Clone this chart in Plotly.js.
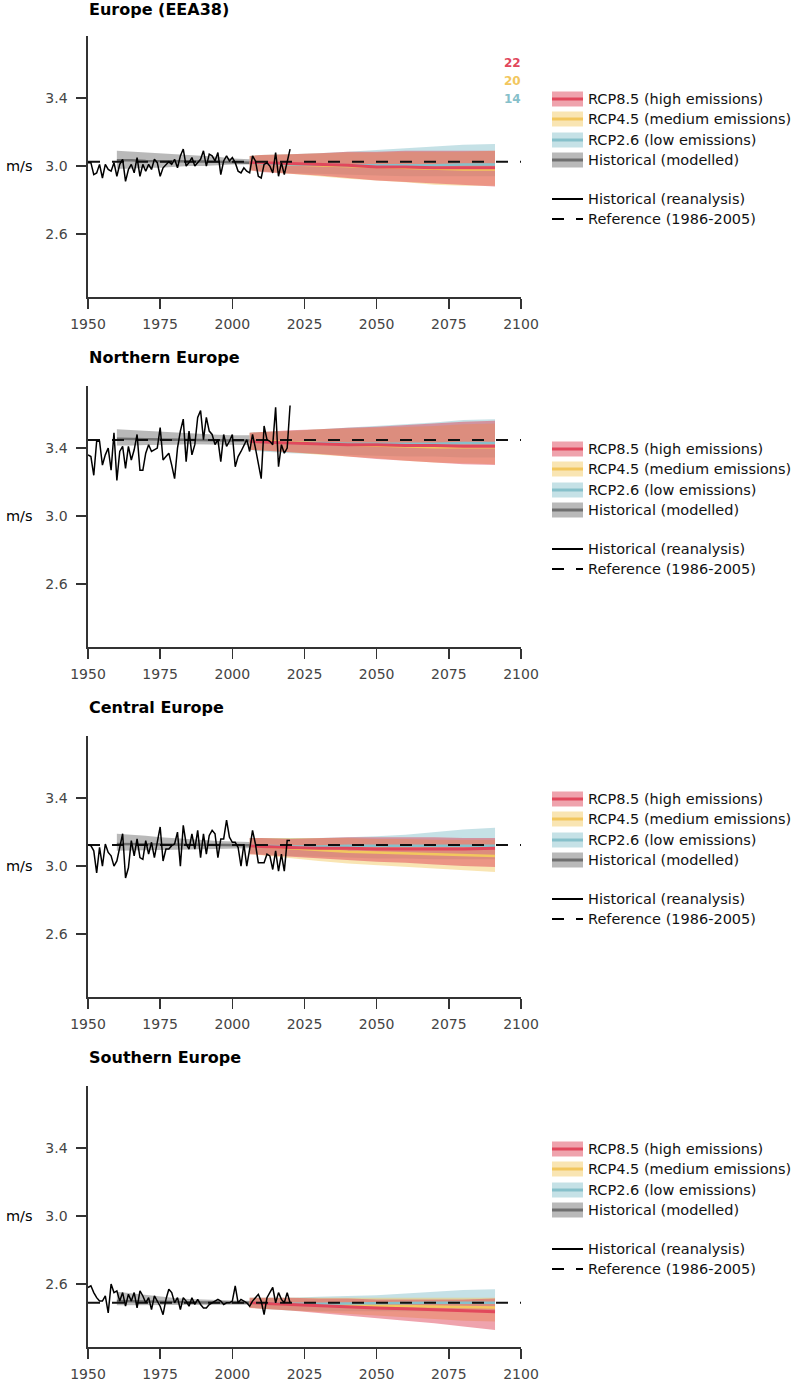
<!DOCTYPE html>
<html><head><meta charset="utf-8">
<script src="https://cdn.plot.ly/plotly-3.0.1.min.js"></script>
<style>html,body{margin:0;padding:0;background:#fff}#chart{width:800px;height:1400px}</style>
</head><body><div id="chart"></div>
<script>
// ---------------- DATA ----------------
const regionNames = ["Europe (EEA38)", "Northern Europe", "Central Europe", "Southern Europe"];
const unitLabel = "m/s";
const legendLabels = ["RCP8.5 (high emissions)", "RCP4.5 (medium emissions)", "RCP2.6 (low emissions)", "Historical (modelled)", "Historical (reanalysis)", "Reference (1986-2005)"];
const modelCounts = [22, 20, 14];
const xTickVals = [1950, 1975, 2000, 2025, 2050, 2075, 2100];
const yTickVals = [2.6, 3.0, 3.4];
const yTickText = ["2.6", "3.0", "3.4"];

const reanYears = [1950,1951,1952,1953,1954,1955,1956,1957,1958,1959,1960,1961,1962,1963,1964,1965,1966,1967,1968,1969,1970,1971,1972,1973,1974,1975,1976,1977,1978,1979,1980,1981,1982,1983,1984,1985,1986,1987,1988,1989,1990,1991,1992,1993,1994,1995,1996,1997,1998,1999,2000,2001,2002,2003,2004,2005,2006,2007,2008,2009,2010,2011,2012,2013,2014,2015,2016,2017,2018,2019,2020];

const reanEurope = [3.02,3.02,2.95,2.96,3.01,2.93,3.01,2.98,2.97,3.02,2.94,3.01,3.04,2.91,2.98,3.01,2.96,3.05,2.94,3.01,2.97,3.01,2.98,3.04,3.02,2.94,2.99,3.01,3.025,3.01,3.04,2.99,3.06,3.10,3.00,3.02,3.05,3.00,3.02,3.04,3.09,3.00,3.07,3.06,3.03,3.08,2.95,3.03,3.06,3.03,3.05,3.02,2.97,2.96,2.99,2.97,2.96,3.06,3.03,2.94,2.93,3.01,3.02,3.00,2.96,3.08,2.94,3.02,2.95,3.03,3.10];
const reanNorth = [3.36,3.35,3.24,3.44,3.44,3.30,3.36,3.40,3.27,3.49,3.21,3.38,3.41,3.28,3.41,3.33,3.39,3.48,3.27,3.27,3.37,3.42,3.38,3.39,3.40,3.52,3.33,3.35,3.37,3.30,3.22,3.40,3.50,3.57,3.32,3.50,3.36,3.42,3.58,3.62,3.45,3.58,3.50,3.48,3.42,3.45,3.32,3.48,3.41,3.44,3.48,3.29,3.35,3.38,3.42,3.45,3.38,3.48,3.40,3.30,3.22,3.53,3.45,3.44,3.42,3.64,3.29,3.42,3.37,3.40,3.65];
const reanCentral = [3.125,3.12,3.09,2.96,3.11,3.00,3.13,3.08,3.06,3.00,3.03,3.11,3.19,2.93,2.99,3.15,3.06,3.16,3.05,3.04,3.15,3.07,3.14,3.05,3.15,3.23,3.03,3.10,3.10,3.12,3.13,3.20,3.00,3.24,3.13,3.10,3.19,3.10,3.21,3.05,3.19,3.07,3.18,3.21,3.19,3.05,3.16,3.16,3.27,3.17,3.14,3.14,3.11,3.00,3.13,3.00,3.10,3.21,3.13,3.02,3.02,3.02,3.07,3.06,2.98,3.09,2.97,3.07,2.97,3.15,3.15];
const reanSouth = [2.58,2.59,2.55,2.52,2.50,2.50,2.53,2.43,2.60,2.55,2.56,2.50,2.55,2.47,2.54,2.50,2.55,2.46,2.56,2.53,2.49,2.52,2.45,2.53,2.50,2.47,2.42,2.51,2.57,2.55,2.49,2.52,2.45,2.52,2.50,2.47,2.52,2.48,2.51,2.48,2.46,2.46,2.48,2.49,2.50,2.51,2.50,2.48,2.49,2.49,2.50,2.59,2.49,2.51,2.50,2.49,2.47,2.50,2.52,2.54,2.50,2.42,2.52,2.55,2.58,2.49,2.55,2.51,2.49,2.55,2.49];

const histYears = [1960,1965,1970,1975,1980,1985,1990,1995,2000,2006];
const histMeanEurope = [3.035,3.035,3.03,3.03,3.03,3.028,3.027,3.025,3.023,3.02];
const histLowEurope  = [2.985,2.985,2.99,2.99,2.995,3.0,3.0,3.005,3.01,3.01];
const histHighEurope = [3.09,3.085,3.08,3.075,3.07,3.065,3.06,3.055,3.045,3.04];
const histMeanNorth = [3.455,3.455,3.452,3.45,3.45,3.448,3.447,3.446,3.445,3.444];
const histLowNorth  = [3.415,3.415,3.418,3.42,3.42,3.422,3.423,3.422,3.42,3.418];
const histHighNorth = [3.51,3.505,3.5,3.495,3.49,3.485,3.48,3.478,3.476,3.475];
const histMeanCentral = [3.13,3.13,3.13,3.128,3.127,3.126,3.125,3.124,3.123,3.122];
const histLowCentral  = [3.09,3.09,3.092,3.094,3.096,3.098,3.1,3.102,3.104,3.105];
const histHighCentral = [3.19,3.185,3.178,3.17,3.163,3.158,3.153,3.148,3.145,3.142];
const histMeanSouth = [2.5,2.498,2.496,2.495,2.494,2.493,2.492,2.492,2.491,2.49];
const histLowSouth  = [2.475,2.475,2.475,2.475,2.476,2.477,2.478,2.478,2.478,2.478];
const histHighSouth = [2.555,2.545,2.535,2.525,2.518,2.512,2.508,2.505,2.503,2.502];

const projYears = [2006,2010,2020,2030,2040,2050,2060,2070,2080,2091];
// Europe
const rcp85MeanEurope = [3.02,3.02,3.015,3.01,3.005,2.995,2.995,2.99,2.99,2.99];
const rcp85LowEurope  = [2.975,2.965,2.955,2.945,2.93,2.915,2.905,2.895,2.89,2.88];
const rcp85HighEurope = [3.06,3.065,3.07,3.075,3.085,3.085,3.09,3.09,3.09,3.09];
const rcp45MeanEurope = [3.02,3.015,3.01,3.005,3.0,2.995,2.99,2.985,2.98,2.98];
const rcp45LowEurope  = [2.975,2.97,2.955,2.94,2.925,2.915,2.905,2.89,2.885,2.885];
const rcp45HighEurope = [3.06,3.065,3.07,3.075,3.08,3.08,3.085,3.085,3.085,3.09];
const rcp26MeanEurope = [3.02,3.015,3.01,3.01,3.005,3.005,3.005,3.005,3.01,3.01];
const rcp26LowEurope  = [2.98,2.97,2.96,2.955,2.95,2.945,2.94,2.94,2.94,2.94];
const rcp26HighEurope = [3.06,3.065,3.07,3.075,3.085,3.095,3.105,3.115,3.125,3.13];
// Northern
const rcp85MeanNorth = [3.44,3.435,3.43,3.425,3.42,3.42,3.415,3.415,3.41,3.41];
const rcp85LowNorth  = [3.39,3.385,3.375,3.365,3.35,3.335,3.325,3.315,3.305,3.30];
const rcp85HighNorth = [3.49,3.495,3.505,3.51,3.52,3.525,3.535,3.545,3.555,3.56];
const rcp45MeanNorth = [3.44,3.44,3.435,3.43,3.42,3.415,3.41,3.405,3.405,3.405];
const rcp45LowNorth  = [3.39,3.385,3.375,3.36,3.35,3.34,3.325,3.315,3.31,3.305];
const rcp45HighNorth = [3.49,3.495,3.5,3.51,3.515,3.52,3.525,3.53,3.54,3.545];
const rcp26MeanNorth = [3.44,3.435,3.43,3.43,3.425,3.425,3.425,3.425,3.43,3.43];
const rcp26LowNorth  = [3.39,3.38,3.37,3.365,3.36,3.355,3.35,3.35,3.345,3.345];
const rcp26HighNorth = [3.49,3.495,3.5,3.51,3.52,3.53,3.54,3.55,3.565,3.57];
// Central
const rcp85MeanCentral = [3.12,3.115,3.11,3.105,3.105,3.1,3.1,3.1,3.1,3.105];
const rcp85LowCentral  = [3.07,3.065,3.055,3.045,3.035,3.025,3.02,3.01,3.0,2.995];
const rcp85HighCentral = [3.165,3.165,3.16,3.165,3.17,3.17,3.17,3.17,3.165,3.165];
const rcp45MeanCentral = [3.12,3.115,3.105,3.095,3.085,3.08,3.075,3.07,3.065,3.06];
const rcp45LowCentral  = [3.07,3.06,3.045,3.03,3.015,3.005,2.995,2.985,2.975,2.965];
const rcp45HighCentral = [3.165,3.165,3.165,3.165,3.165,3.16,3.16,3.155,3.155,3.155];
const rcp26MeanCentral = [3.12,3.12,3.115,3.115,3.12,3.12,3.12,3.12,3.12,3.12];
const rcp26LowCentral  = [3.075,3.07,3.06,3.055,3.05,3.045,3.045,3.04,3.04,3.04];
const rcp26HighCentral = [3.165,3.165,3.165,3.165,3.17,3.175,3.185,3.2,3.215,3.225];
// Southern
const rcp85MeanSouth = [2.49,2.487,2.48,2.472,2.465,2.46,2.455,2.448,2.442,2.437];
const rcp85LowSouth  = [2.46,2.455,2.445,2.43,2.415,2.4,2.385,2.37,2.35,2.33];
const rcp85HighSouth = [2.52,2.52,2.52,2.515,2.515,2.51,2.51,2.51,2.51,2.515];
const rcp45MeanSouth = [2.49,2.487,2.482,2.478,2.475,2.472,2.47,2.467,2.465,2.463];
const rcp45LowSouth  = [2.46,2.455,2.445,2.435,2.425,2.415,2.405,2.395,2.385,2.38];
const rcp45HighSouth = [2.52,2.52,2.52,2.52,2.52,2.52,2.52,2.52,2.52,2.52];
const rcp26MeanSouth = [2.49,2.488,2.485,2.485,2.487,2.488,2.49,2.49,2.49,2.49];
const rcp26LowSouth  = [2.465,2.455,2.445,2.44,2.44,2.44,2.44,2.44,2.44,2.44];
const rcp26HighSouth = [2.52,2.52,2.52,2.525,2.53,2.535,2.545,2.555,2.565,2.57];

const referenceValues = [3.025, 3.447, 3.124, 2.49];
const referenceSpan = [1950, 2100];

// ---------------- STYLE ----------------
const W = 800, H = 1400;
const FONT = "DejaVu Sans";
const C = {
  redLine: "#e1485c", redFill: "rgba(222,62,84,0.48)",
  yelLine: "#f2c75e", yelFill: "rgba(242,199,94,0.47)",
  bluLine: "#86c0ca", bluFill: "rgba(140,196,205,0.5)",
  grayLine: "#6e6e6e", grayFill: "rgba(115,115,115,0.5)"
};
const PANEL_STEP = 350, PLOT_TOP = 35.5, PLOT_BOT = 297, X_LEFT = 88, X_RIGHT = 521;
const yRange = [2.23, 3.768];

const panels = [
  {rean: reanEurope, hm: histMeanEurope, hl: histLowEurope, hh: histHighEurope,
   r85: [rcp85MeanEurope, rcp85LowEurope, rcp85HighEurope], r45: [rcp45MeanEurope, rcp45LowEurope, rcp45HighEurope], r26: [rcp26MeanEurope, rcp26LowEurope, rcp26HighEurope]},
  {rean: reanNorth, hm: histMeanNorth, hl: histLowNorth, hh: histHighNorth,
   r85: [rcp85MeanNorth, rcp85LowNorth, rcp85HighNorth], r45: [rcp45MeanNorth, rcp45LowNorth, rcp45HighNorth], r26: [rcp26MeanNorth, rcp26LowNorth, rcp26HighNorth]},
  {rean: reanCentral, hm: histMeanCentral, hl: histLowCentral, hh: histHighCentral,
   r85: [rcp85MeanCentral, rcp85LowCentral, rcp85HighCentral], r45: [rcp45MeanCentral, rcp45LowCentral, rcp45HighCentral], r26: [rcp26MeanCentral, rcp26LowCentral, rcp26HighCentral]},
  {rean: reanSouth, hm: histMeanSouth, hl: histLowSouth, hh: histHighSouth,
   r85: [rcp85MeanSouth, rcp85LowSouth, rcp85HighSouth], r45: [rcp45MeanSouth, rcp45LowSouth, rcp45HighSouth], r26: [rcp26MeanSouth, rcp26LowSouth, rcp26HighSouth]}
];

const px = v => v / W;
const py = v => 1 - v / H;

function band(xs, lo, hi, fill, xa, ya) {
  return {x: xs.concat(xs.slice().reverse()), y: hi.concat(lo.slice().reverse()),
    type: "scatter", mode: "lines", fill: "toself", fillcolor: fill,
    line: {width: 0, color: "rgba(0,0,0,0)"}, hoverinfo: "skip", showlegend: false, xaxis: xa, yaxis: ya};
}
function line(xs, ys, color, width, xa, ya, dash) {
  return {x: xs, y: ys, type: "scatter", mode: "lines",
    line: {color: color, width: width, dash: dash || "solid"}, hoverinfo: "skip", showlegend: false, xaxis: xa, yaxis: ya};
}

const traces = [];
const layout = {
  width: W, height: H, margin: {l: 0, r: 0, t: 0, b: 0},
  paper_bgcolor: "#fff", plot_bgcolor: "#fff", showlegend: false, hovermode: false,
  font: {family: FONT, size: 14, color: "#000"},
  shapes: [], annotations: []
};

panels.forEach((p, k) => {
  const sfx = k === 0 ? "" : String(k + 1);
  const xa = "x" + sfx, ya = "y" + sfx;
  const off = k * PANEL_STEP;
  layout["xaxis" + sfx] = {
    domain: [px(X_LEFT), px(X_RIGHT)], anchor: ya, range: [1950, 2100],
    tickvals: xTickVals, ticks: "outside", ticklen: 10, tickwidth: 1.6, tickcolor: "#333",
    showline: true, linecolor: "#333", linewidth: 1.6, showgrid: false, zeroline: false,
    tickfont: {family: FONT, size: 14, color: "#444"}, ticklabelstandoff: 4
  };
  layout["yaxis" + sfx] = {
    domain: [py(PLOT_BOT + off), py(PLOT_TOP + off)], anchor: xa, range: yRange,
    tickvals: yTickVals, ticktext: yTickText, ticks: "outside", ticklen: 10, tickwidth: 1.6, tickcolor: "#333",
    showline: true, linecolor: "#333", linewidth: 1.6, showgrid: false, zeroline: false,
    tickfont: {family: FONT, size: 14, color: "#444"}, ticklabelstandoff: 6
  };
  // bands
  traces.push(band(histYears, p.hl, p.hh, C.grayFill, xa, ya));
  traces.push(band(projYears, p.r26[1], p.r26[2], C.bluFill, xa, ya));
  traces.push(band(projYears, p.r45[1], p.r45[2], C.yelFill, xa, ya));
  traces.push(band(projYears, p.r85[1], p.r85[2], C.redFill, xa, ya));
  // mean lines
  traces.push(line(histYears, p.hm, C.grayLine, 2.5, xa, ya));
  traces.push(line(projYears, p.r45[0], C.yelLine, 2.5, xa, ya));
  traces.push(line(projYears, p.r26[0], C.bluLine, 2.5, xa, ya));
  traces.push(line(projYears, p.r85[0], C.redLine, 3, xa, ya));
  // reference & reanalysis
  traces.push(line(referenceSpan, [referenceValues[k], referenceValues[k]], "#111", 2, xa, ya, "12px,12px"));
  traces.push(line(reanYears, p.rean, "#000", 1.5, xa, ya));

  // title
  layout.annotations.push({xref: "paper", yref: "paper", x: px(86.5), y: py((k === 0 ? 9.5 : 7) + off), xanchor: "left", yanchor: "middle",
    text: "<b>" + regionNames[k] + "</b>", showarrow: false, font: {family: FONT, size: 16, color: "#000"}});
  // unit label
  layout.annotations.push({xref: "paper", yref: "paper", x: px(19.5), y: py(166 + off), xanchor: "center", yanchor: "middle",
    text: unitLabel, showarrow: false, font: {family: FONT, size: 14.5, color: "#000"}});

  // legend (drawn manually)
  const rows = [99, 119, 140, 160, 199, 219];
  const sw = [[C.redFill, C.redLine], [C.yelFill, C.yelLine], [C.bluFill, C.bluLine], [C.grayFill, C.grayLine]];
  sw.forEach((s, i) => {
    const cy = rows[i] + off;
    layout.shapes.push({type: "rect", xref: "paper", yref: "paper", x0: px(552), x1: px(583), y0: py(cy - 7.5), y1: py(cy + 7.5),
      fillcolor: s[0], line: {width: 0}});
    layout.shapes.push({type: "line", xref: "paper", yref: "paper", x0: px(552), x1: px(583), y0: py(cy), y1: py(cy),
      line: {color: s[1], width: 3}});
  });
  layout.shapes.push({type: "line", xref: "paper", yref: "paper", x0: px(552), x1: px(583), y0: py(rows[4] + off), y1: py(rows[4] + off),
    line: {color: "#000", width: 2}});
  layout.shapes.push({type: "line", xref: "paper", yref: "paper", x0: px(552), x1: px(583), y0: py(rows[5] + off), y1: py(rows[5] + off),
    line: {color: "#000", width: 2, dash: "12px,12px"}});
  legendLabels.forEach((t, i) => {
    layout.annotations.push({xref: "paper", yref: "paper", x: px(585.5), y: py(rows[i] + off), xanchor: "left", yanchor: "middle",
      text: t, showarrow: false, font: {family: FONT, size: 14.5, color: "#111"}});
  });
});

// model counts (first panel only)
const countColors = [C.redLine, C.yelLine, C.bluLine];
const countRows = [63, 81, 99];
modelCounts.forEach((n, i) => {
  layout.annotations.push({xref: "paper", yref: "paper", x: px(523), y: py(countRows[i]), xanchor: "right", yanchor: "middle",
    text: "<b>" + n + "</b>", showarrow: false, font: {family: FONT, size: 12, color: countColors[i]}});
});

Plotly.newPlot("chart", traces, layout, {staticPlot: true, displayModeBar: false});
</script>
</body></html>
